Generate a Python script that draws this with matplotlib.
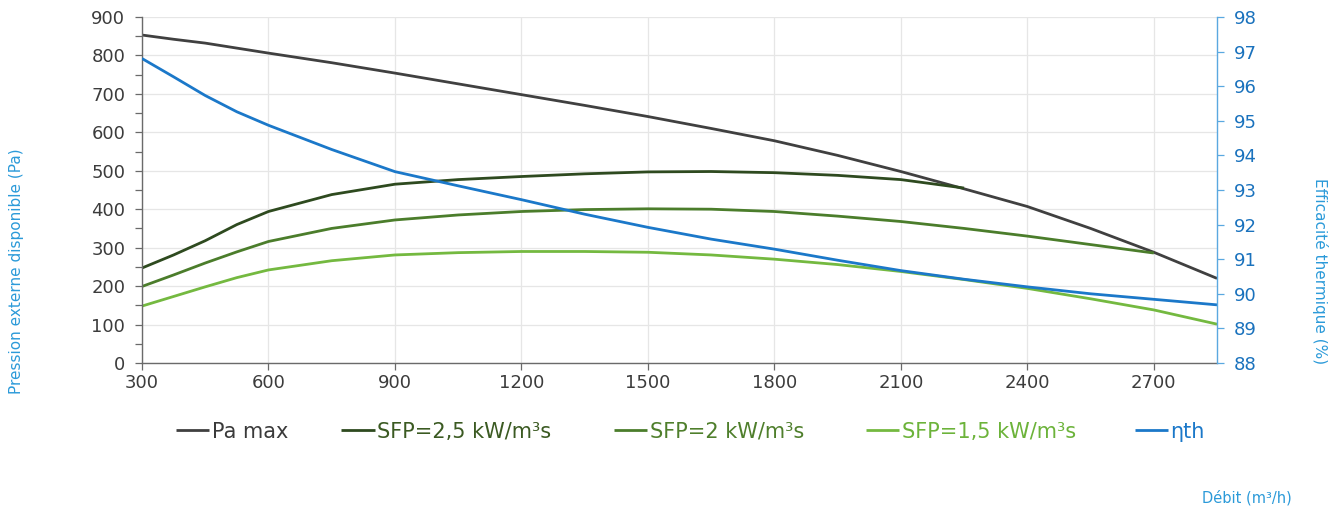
import matplotlib
matplotlib.use("Agg")
import matplotlib.pyplot as plt
from matplotlib.ticker import MultipleLocator

plt.rcParams['font.family'] = ['DejaVu Sans']

# Airflow (m3/h)
debit = [300, 375, 450, 525, 600, 750, 900, 1050, 1200, 1350, 1500, 1650,
         1800, 1950, 2100, 2250, 2400, 2550, 2700, 2850]

# Available external pressure (Pa)
pa_max = [853, 842, 832, 819, 806, 781, 754, 726, 698, 670, 641, 610,
          578, 540, 498, 453, 407, 350, 288, 220]
sfp_25 = [247, 281, 318, 360, 394, 438, 465, 477, 485, 492, 497, 498,
          495, 488, 477, 455]
sfp_20 = [199, 229, 260, 289, 316, 350, 372, 385, 394, 399, 401, 400,
          394, 382, 368, 350, 330, 308, 286]
sfp_15 = [148, 173, 198, 222, 242, 266, 281, 287, 290, 290, 288, 281,
          270, 256, 238, 217, 194, 167, 138, 101]

# Thermal efficiency (%)
eta_th = [96.80, 96.27, 95.73, 95.26, 94.87, 94.17, 93.53, 93.12, 92.72,
          92.30, 91.92, 91.58, 91.29, 90.97, 90.67, 90.42, 90.20, 90.00,
          89.84, 89.68]

x_ticks = [300, 600, 900, 1200, 1500, 1800, 2100, 2400, 2700]

labels = ["Pa max", "SFP=2,5 kW/m³s", "SFP=2 kW/m³s", "SFP=1,5 kW/m³s", "ηth"]
line_colors = ["#404040", "#2e4a1f", "#4b7d2b", "#74b940", "#1b78c9"]
text_colors = ["#3a3a3a", "#3b5a22", "#4f7f2c", "#6cb33a", "#1b78c9"]
# left edge of each legend entry, as a fraction of figure width
legend_x = [0.1315, 0.2550, 0.4590, 0.6470, 0.8480]

tick_gray = "#3c3c3c"
axis_blue = "#2b9ad9"
right_blue = "#1a72bd"

fig = plt.figure(figsize=(13.38, 5.14), dpi=100)
ax = fig.add_axes([0.1061, 0.2938, 0.8035, 0.6732])
ax2 = ax.twinx()

lw = 2.0
kw = dict(lw=lw, solid_joinstyle="round", solid_capstyle="butt")
h1, = ax.plot(debit, pa_max, color=line_colors[0], **kw)
h2, = ax.plot(debit[:len(sfp_25)], sfp_25, color=line_colors[1], **kw)
h3, = ax.plot(debit[:len(sfp_20)], sfp_20, color=line_colors[2], **kw)
h4, = ax.plot(debit, sfp_15, color=line_colors[3], **kw)
h5, = ax2.plot(debit, eta_th, color=line_colors[4], **kw)

ax.set_xlim(300, 2850)
ax.set_ylim(0, 900)
ax2.set_ylim(88, 98)

ax.set_xticks(x_ticks)
ax.yaxis.set_major_locator(MultipleLocator(100))
ax.yaxis.set_minor_locator(MultipleLocator(50))
ax2.yaxis.set_major_locator(MultipleLocator(1))

ax.grid(True, which="major", color="#e6e6e6", lw=0.9)
ax.set_axisbelow(True)

ax.spines["top"].set_visible(False)
ax2.spines["top"].set_visible(False)
ax.spines["right"].set_visible(False)
ax2.spines["left"].set_visible(False)
ax2.spines["bottom"].set_visible(False)
ax.spines["left"].set_color("#6a6a6a")
ax.spines["bottom"].set_color("#6a6a6a")
ax2.spines["right"].set_color("#5aa8e0")
for sp in [ax.spines["left"], ax.spines["bottom"], ax2.spines["right"]]:
    sp.set_linewidth(1.0)

ax.tick_params(axis="both", which="major", length=5, width=0.9,
               color="#6a6a6a", labelsize=13, labelcolor=tick_gray)
ax.tick_params(axis="y", which="minor", length=5, width=0.9, color="#6a6a6a")
ax.tick_params(axis="x", pad=3)
ax.tick_params(axis="y", pad=7)
ax2.tick_params(axis="y", which="major", length=5, width=0.9, pad=7,
                color="#5aa8e0", labelsize=13, labelcolor=right_blue)

fig.text(0.012, 0.472, "Pression externe disponible (Pa)", rotation=90,
         ha="center", va="center", color=axis_blue, fontsize=11)
fig.text(0.9865, 0.473, "Efficacité thermique (%)", rotation=270,
         ha="center", va="center", color=axis_blue, fontsize=11)
fig.text(0.9656, 0.032, "Débit (m³/h)", ha="right", va="center",
         color=axis_blue, fontsize=10.5)

for h, lab, tc, x0 in zip([h1, h2, h3, h4, h5], labels, text_colors, legend_x):
    leg = fig.legend([h], [lab], loc="center left",
                     bbox_to_anchor=(x0, 0.16), frameon=False,
                     fontsize=15, handlelength=1.6, handletextpad=0.12,
                     borderpad=0, borderaxespad=0)
    leg.get_texts()[0].set_color(tc)

fig.savefig("out.png", dpi=100)
